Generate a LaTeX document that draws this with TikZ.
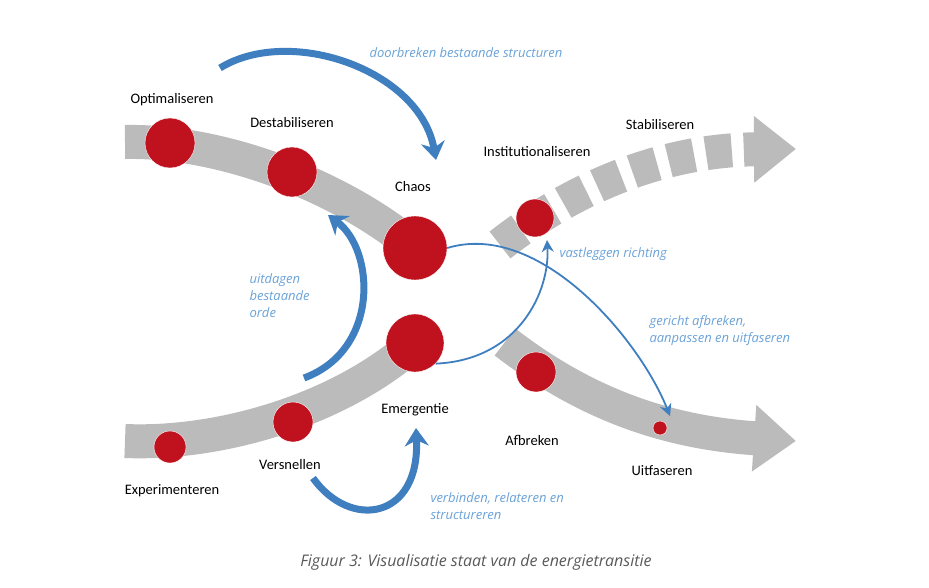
\documentclass[tikz,border=0pt]{standalone}
\usepackage{fontspec}
\setmainfont{Carlito}
\newfontfamily\notefont{Open Sans}
\usetikzlibrary{arrows.meta}
\definecolor{dotred}{HTML}{C0111F}
\definecolor{bandgray}{HTML}{BBBBBB}
\definecolor{flowblue}{HTML}{3F7FC0}
\definecolor{noteblue}{HTML}{6AA2D8}
\begin{document}
\begin{tikzpicture}[x=1pt,y=-1pt]
		\tikzstyle{band}=[bandgray,line width=34pt]
		\tikzstyle{dot}=[circle,fill=dotred,draw=white,thin,inner sep=0pt]
		\tikzstyle{phase}=[font=\fontsize{14.5}{17}\selectfont,text=black]
		\tikzstyle{note}=[font=\notefont\itshape\fontsize{13}{17}\selectfont,text=noteblue,align=left]
		\tikzstyle{bigflow}=[flowblue,line width=7pt,-{Stealth[length=18pt,width=24pt]}]
		\tikzstyle{thinflow}=[flowblue,line width=1.8pt,-{Stealth[length=12pt,width=12pt]}]
		\useasboundingbox (0,0) rectangle (929,588);
		% bands
		\draw [band] (125,142) .. controls (220,140) and (340,185) .. (415,248);
		\draw [band] (125,441) .. controls (220,445) and (340,410) .. (415,343);
		\draw [band,dash pattern=on 26pt off 12pt,-{Triangle[width=64pt,length=42pt]}] (500,245) .. controls (570,190) and (660,150) .. (796,149);
		\draw [band,-{Triangle[width=64pt,length=42pt]}] (505,342) .. controls (580,400) and (660,432) .. (796,441);
		% dots
		\node [dot,minimum size=50pt] at (170,143) (opt) {};
		\node [dot,minimum size=50pt] at (292,172) (des) {};
		\node [dot,minimum size=64pt] at (415,248) (chaos) {};
		\node [dot,minimum size=38pt] at (535,218) (inst) {};
		\node [dot,minimum size=58pt] at (415,343) (emer) {};
		\node [dot,minimum size=40pt] at (293,422) (vers) {};
		\node [dot,minimum size=32pt] at (170,447) (exp) {};
		\node [dot,minimum size=40pt] at (536,372) (afbr) {};
		\node [dot,minimum size=14pt] at (660,428) (uitf) {};
		% phase labels
		\node [phase] at (172,100) (l-opt) {Optimaliseren};
		\node [phase] at (292,123) (l-des) {Destabiliseren};
		\node [phase] at (413,187) (l-chaos) {Chaos};
		\node [phase] at (537,152) (l-inst) {Institutionaliseren};
		\node [phase] at (660,125) (l-stab) {Stabiliseren};
		\node [phase] at (172,491) (l-exp) {Experimenteren};
		\node [phase] at (290,465) (l-vers) {Versnellen};
		\node [phase] at (415,410) (l-emer) {Emergentie};
		\node [phase] at (532,440) (l-afbr) {Afbreken};
		\node [phase] at (662,471) (l-uitf) {Uitfaseren};
		% notes
		\node [note,anchor=west] at (366,53) (n-door) {doorbreken bestaande structuren};
		\node [note,anchor=west] at (246,296) (n-uitd) {uitdagen\\bestaande\\orde};
		\node [note,anchor=west] at (427,506) (n-verb) {verbinden, relateren en\\structureren};
		\node [note,anchor=west] at (556,254) (n-vast) {vastleggen richting};
		\node [note,anchor=west] at (646,331) (n-geri) {gericht afbreken,\\aanpassen en uitfaseren};
		% flows
		\coordinate (top-start) at (220,68);
		\coordinate (top-end) at (436,160);
		\coordinate (left-start) at (304,378);
		\coordinate (left-end) at (328,215);
		\coordinate (bot-start) at (313,478);
		\coordinate (bot-end) at (416,428);
		\coordinate (vast-end) at (547,240);
		\coordinate (geri-end) at (670,416);
		\draw [bigflow] (top-start) .. controls (290,25) and (420,70) .. (top-end);
		\draw [bigflow] (left-start) .. controls (380,350) and (375,250) .. (left-end);
		\draw [bigflow] (bot-start) .. controls (350,530) and (420,520) .. (bot-end);
		\draw [thinflow] (emer.south east) .. controls (520,360) and (550,290) .. (vast-end);
		\draw [thinflow] (chaos.east) .. controls (540,220) and (640,340) .. (geri-end);
		% caption
		\node [font=\notefont\itshape\fontsize{16}{18}\selectfont,text=black!65] at (476,562) (caption) {Figuur 3: Visualisatie staat van de energietransitie};
	\end{tikzpicture}
\end{document}
